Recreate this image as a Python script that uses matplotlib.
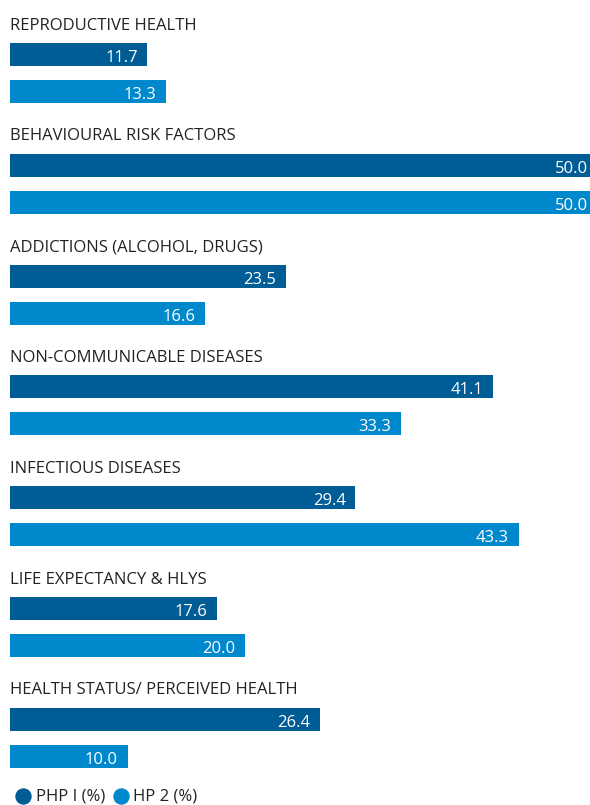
import matplotlib
matplotlib.use("Agg")
import matplotlib.pyplot as plt

categories = ["REPRODUCTIVE HEALTH", "BEHAVIOURAL RISK FACTORS", "ADDICTIONS (ALCOHOL, DRUGS)",
              "NON-COMMUNICABLE DISEASES", "INFECTIOUS DISEASES", "LIFE EXPECTANCY & HLYS",
              "HEALTH STATUS/ PERCEIVED HEALTH"]
php1 = [11.7, 50.0, 23.5, 41.1, 29.4, 17.6, 26.4]
hp2 = [13.3, 50.0, 16.6, 33.3, 43.3, 20.0, 10.0]
series_names = ["PHP I (%)", "HP 2 (%)"]
colors = ["#005C94", "#0088CC"]

W, H = 590, 805
PXU = 11.75  # px per value unit
fig = plt.figure(figsize=(W / 100, H / 100), dpi=100)
ax = fig.add_axes([10 / W, 0, 580 / W, 1])
ax.set_xlim(0, 580 / PXU)
ax.set_ylim(H, 0)
ax.axis("off")

FONT = "Open Sans"
FS = 12
step = 110.8
bar_h = 23
for i, (cat, a, b) in enumerate(zip(categories, php1, hp2)):
    base = i * step
    ax.text(0, base + 29.5, cat, ha="left", va="baseline", fontsize=FS,
            color="#222222", family=FONT)
    for val, yc, col in ((a, base + 54.5, colors[0]), (b, base + 91.5, colors[1])):
        ax.barh(yc, val, height=bar_h, color=col, left=0, clip_on=True)
        ax.annotate(f"{val:.1f}", xy=(val, yc + 7.5), xytext=(-7, 0), textcoords="offset points",
                    ha="right", va="baseline", fontsize=FS, color="white", family=FONT,
                    annotation_clip=False)

# legend
ly = 795.5
fx = 1 / PXU
ax.plot([12.5 * fx], [ly], "o", color=colors[0], markersize=10.8, clip_on=False)
ax.text(26 * fx, 800.5, series_names[0], ha="left", va="baseline", fontsize=FS, color="#222222", family=FONT)
ax.plot([110.5 * fx], [ly], "o", color=colors[1], markersize=10.8, clip_on=False)
ax.text(123 * fx, 800.5, series_names[1], ha="left", va="baseline", fontsize=FS, color="#222222", family=FONT)

fig.savefig("out.png", dpi=100)
